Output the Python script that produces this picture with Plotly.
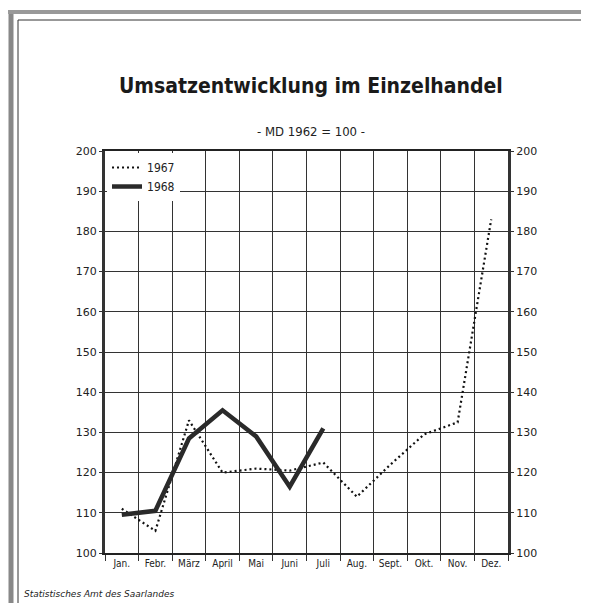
import plotly.graph_objects as go

months = ["Jan.", "Febr.", "März", "April", "Mai", "Juni", "Juli",
          "Aug.", "Sept.", "Okt.", "Nov.", "Dez."]
values_1967 = [111, 105.5, 133, 120, 121, 120.5, 122.5, 114, 122, 129.5, 132.5, 183]
values_1968 = [109.5, 110.5, 128.5, 135.5, 129, 116.5, 131]
y_ticks = [100, 110, 120, 130, 140, 150, 160, 170, 180, 190, 200]

W, H = 589, 603
L, R, T, B = 97, 89, 143, 58
pw, ph = W - L - R, H - T - B

def px(x):
    return (x - L) / pw

def py(y):
    return (H - B - y) / ph

fig = go.Figure()
fig.add_trace(go.Scatter(
    x=months, y=values_1967, name="1967", mode="lines",
    line=dict(color="#111", width=2.2, dash="2px,3px"), yaxis="y"))
fig.add_trace(go.Scatter(
    x=months[:len(values_1968)], y=values_1968, name="1968", mode="lines",
    line=dict(color="#2a2a2a", width=4.5), yaxis="y2"))

axis_font = dict(family="DejaVu Sans", size=11, color="#222")
cond = "DejaVu Sans Condensed, DejaVu Sans"
fig.update_layout(
    width=W, height=H,
    margin=dict(l=L, r=R, t=T, b=B),
    paper_bgcolor="white", plot_bgcolor="white",
    showlegend=True,
    legend=dict(x=0.005, y=0.995, xanchor="left", yanchor="top",
                bgcolor="white", borderwidth=0,
                font=dict(family=cond, size=12, color="#222"),
                tracegroupgap=0, itemwidth=30),
    xaxis=dict(type="category", categoryorder="array", categoryarray=months,
               range=[-0.5, 11.5], tickson="boundaries", tickangle=0,
               showgrid=True, gridcolor="#333", gridwidth=1,
               showline=True, linecolor="#222", linewidth=2, mirror=True,
               ticks="outside", ticklen=6, tickcolor="#333",
               tickfont=dict(family=cond, size=10, color="#222"),
               fixedrange=True),
    yaxis=dict(range=[100, 200], tickvals=y_ticks,
               showgrid=True, gridcolor="#333", gridwidth=1,
               showline=True, linecolor="#333", linewidth=3,
               ticks="outside", ticklen=3, tickcolor="#333",
               tickfont=axis_font, zeroline=False),
    yaxis2=dict(range=[100, 200], tickvals=y_ticks, overlaying="y", side="right",
                showgrid=False, showline=True, linecolor="#333", linewidth=3,
                ticks="outside", ticklen=3, tickcolor="#333",
                tickfont=axis_font, zeroline=False),
    annotations=[
        dict(text="<b>Umsatzentwicklung im Einzelhandel</b>", xref="paper", yref="paper",
             x=px(303), y=py(78), xanchor="center", yanchor="middle", showarrow=False,
             font=dict(family=cond, size=21, color="#1a1a1a")),
        dict(text="- MD 1962 = 100 -", xref="paper", yref="paper",
             x=px(303), y=py(123), xanchor="center", yanchor="middle", showarrow=False,
             font=dict(family=cond, size=13, color="#222")),
        dict(text="<i>Statistisches Amt des Saarlandes</i>", xref="paper", yref="paper",
             x=px(14), y=py(586), xanchor="left", yanchor="middle", showarrow=False,
             font=dict(family="DejaVu Sans", size=9, color="#222")),
    ],
    shapes=[
        dict(type="rect", xref="paper", yref="paper",
             x0=px(10), x1=px(584), y0=py(12), y1=py(598),
             line=dict(color="#333", width=1), layer="below"),
        dict(type="line", xref="paper", yref="paper",
             x0=px(3), x1=px(3), y0=py(2), y1=py(603),
             line=dict(color="#888", width=5), layer="below"),
        dict(type="line", xref="paper", yref="paper",
             x0=px(0), x1=px(589), y0=py(4), y1=py(4),
             line=dict(color="#999", width=4), layer="below"),
    ],
)

fig.write_html("out.html")
